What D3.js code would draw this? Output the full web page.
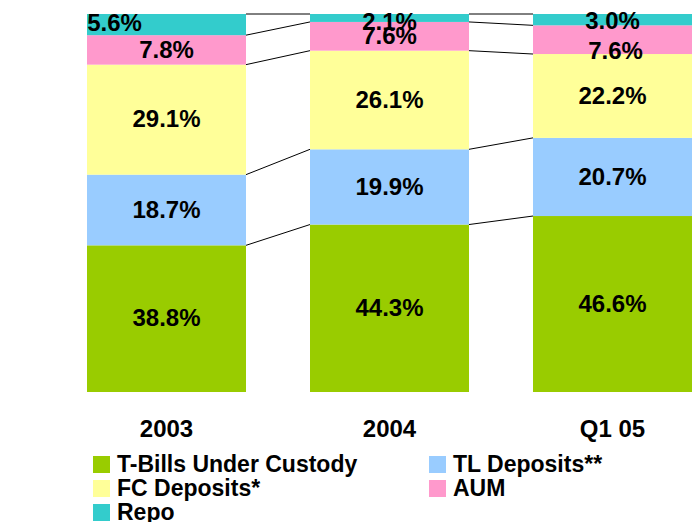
<!DOCTYPE html>
<html>
<head>
<meta charset="utf-8">
<script src="https://cdn.jsdelivr.net/npm/d3@7"></script>
<style>
  html, body { margin: 0; padding: 0; background: #fff; }
  svg { display: block; }
  text { font-family: "Liberation Sans", Arial, sans-serif; font-weight: bold; fill: #000; }
</style>
</head>
<body>
<svg id="chart" width="696" height="522"></svg>
<script>
// ---- data ----
const categories = ["2003", "2004", "Q1 05"];
const seriesNames = ["T-Bills Under Custody", "TL Deposits**", "FC Deposits*", "AUM", "Repo"];
const tBills     = [38.8, 44.3, 46.6];
const tlDeposits = [18.7, 19.9, 20.7];
const fcDeposits = [29.1, 26.1, 22.2];
const aum        = [7.8, 7.6, 7.6];
const repo       = [5.6, 2.1, 3.0];
const colors = ["#99CC00", "#99CCFF", "#FFFF99", "#FF99CC", "#33CCCC"];
const seriesValues = [tBills, tlDeposits, fcDeposits, aum, repo];

// ---- build table ----
const table = categories.map((c, i) => {
  const row = { cat: c, idx: i };
  seriesNames.forEach((s, k) => row[s] = seriesValues[k][i]);
  return row;
});

const svg = d3.select("#chart");
const x = d3.scaleBand().domain(categories).range([55, 724]).paddingInner(0.287).paddingOuter(0.1435);
const y = d3.scaleLinear().domain([0, 1]).range([392, 14]);

const stack = d3.stack().keys(seriesNames).offset(d3.stackOffsetExpand);
const stacked = stack(table);

// label nudges to mimic overlap avoidance in the original
const nudge = {
  "Repo|2003": [-52, -2],
  "Repo|2004": [0, 3],
  "Repo|Q1 05": [0, 1],
  "AUM|Q1 05": [3, 11]
};

// bars
const groups = svg.append("g").selectAll("g").data(stacked).join("g")
  .attr("fill", (d, k) => colors[k]);
groups.selectAll("rect").data(d => d.map(p => ({ p, key: d.key }))).join("rect")
  .attr("x", d => x(d.p.data.cat))
  .attr("width", x.bandwidth())
  .attr("y", d => y(d.p[1]))
  .attr("height", d => y(d.p[0]) - y(d.p[1]));

// connector (series) lines
const lines = svg.append("g").attr("stroke", "#000").attr("stroke-width", 1).attr("fill", "none");
stacked.forEach(s => {
  for (let i = 0; i < categories.length - 1; i++) {
    const a = s[i], b = s[i + 1];
    lines.append("line")
      .attr("x1", x(categories[i]) + x.bandwidth())
      .attr("y1", y(a[1]))
      .attr("x2", x(categories[i + 1]))
      .attr("y2", y(b[1]));
  }
});

// value labels
const labels = svg.append("g");
stacked.forEach(s => {
  s.forEach((p, i) => {
    const key = s.key + "|" + p.data.cat;
    const n = nudge[key] || [0, -1];
    const cx = x(p.data.cat) + x.bandwidth() / 2 + n[0];
    const cy = (y(p[0]) + y(p[1])) / 2 + n[1];
    labels.append("text")
      .attr("x", cx)
      .attr("y", cy)
      .attr("dy", "0.36em")
      .attr("text-anchor", "middle")
      .attr("font-size", 24)
      .text(p.data[s.key].toFixed(1) + "%");
  });
});

// category axis labels
const xAxis = d3.axisBottom(x).tickSize(0).tickPadding(0);
const axisG = svg.append("g").attr("transform", "translate(0,392)").call(xAxis);
axisG.select(".domain").remove();
axisG.selectAll("text")
  .attr("y", 45)
  .attr("dy", 0)
  .attr("font-size", 24)
  .style("font-family", '"Liberation Sans", Arial, sans-serif')
  .style("font-weight", "bold")
  .attr("fill", "#000");

// legend
const legendPos = [[93, 456], [429, 456], [93, 480], [429, 480], [93, 504]];
const legend = svg.append("g");
seriesNames.forEach((s, k) => {
  const [lx, ly] = legendPos[k];
  legend.append("rect").attr("x", lx).attr("y", ly).attr("width", 17).attr("height", 17).attr("fill", colors[k]);
  legend.append("text").attr("x", lx + 24).attr("y", ly + 16).attr("font-size", 23).text(s);
});
</script>
</body>
</html>
